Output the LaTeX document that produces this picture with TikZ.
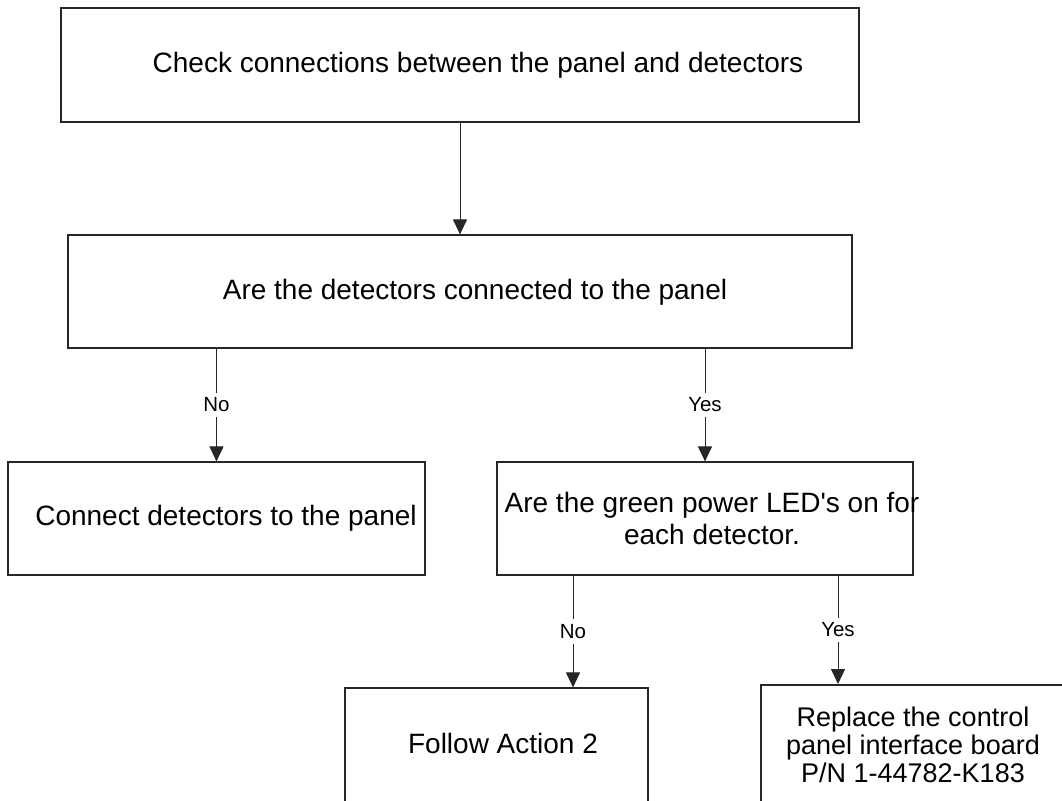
\documentclass[tikz,border=0pt]{standalone}
\usepackage{fontspec}
\setmainfont{Liberation Sans}
\usetikzlibrary{arrows.meta}
\begin{document}
\begin{tikzpicture}[x=1pt,y=-1pt,
  box/.style={draw=black!85,line width=1.2pt,rectangle,inner sep=0pt},
  txt/.style={inner sep=0pt,align=center,font=\fontsize{28}{32}\selectfont},
  txtsm/.style={inner sep=0pt,align=center,font=\fontsize{27}{28}\selectfont},
  lbl/.style={fill=white,inner sep=5pt,font=\fontsize{20.5}{24}\selectfont},
  arr/.style={draw=black!85,line width=1pt,-{Triangle[length=15pt,width=14pt]}}]
\useasboundingbox (0,0) rectangle (1062,800);
\begin{scope}
\clip (0,0) rectangle (1062,800);
% boxes
\node[box,minimum width=798pt,minimum height=114pt] (b1) at (460,65) {};
\node[box,minimum width=784pt,minimum height=113pt] (b2) at (460,291.5) {};
\node[box,minimum width=417pt,minimum height=113pt] (b3) at (216.5,518.5) {};
\node[box,minimum width=416pt,minimum height=113pt] (b4) at (705,518.5) {};
\node[box,minimum width=303pt,minimum height=114pt] (b5) at (496.5,745) {};
\node[box,line width=2pt,minimum width=305pt,minimum height=117pt] (b6) at (913.5,743.5) {};
% texts
\node[txt] (t1) at (478,65) {Check connections between the panel and detectors};
\node[txt] (t2) at (475,292) {Are the detectors connected to the panel};
\node[txt] (t3) at (226,518) {Connect detectors to the panel};
\node[txt] (t4) at (712,518) {Are the green power LED\textquotesingle s on for\\each detector.};
\node[txt] (t5) at (503,743) {Follow Action 2};
\node[txtsm] (t6) at (913,745) {Replace the control\\panel interface board\\P/N 1-44782-K183};
% connectors
\coordinate (k5) at (573,0);
\coordinate (k6) at (838,0);
\draw[arr] (b1.south) -- (b2.north);
\draw[arr] (b2.south -| b3.north) -- node[lbl] {No} (b3.north);
\draw[arr] (b2.south -| b4.north) -- node[lbl] {Yes} (b4.north);
\draw[arr] (b4.south -| k5) -- node[lbl] {No} (b5.north -| k5);
\draw[arr] (b4.south -| k6) -- node[lbl] {Yes} (b6.north -| k6);
\end{scope}
\end{tikzpicture}
\end{document}
